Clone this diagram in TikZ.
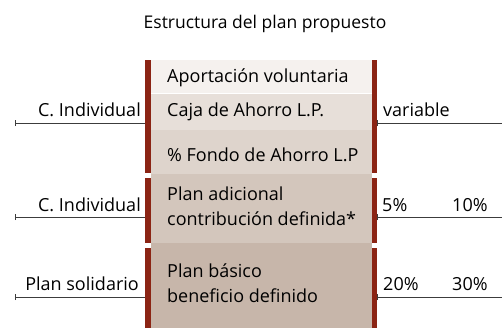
\documentclass[tikz,border=0pt]{standalone}
\usepackage{fontspec}
\setmainfont{Open Sans}
\usetikzlibrary{arrows.meta, calc, positioning}
\definecolor{barred}{RGB}{139,36,20}
\definecolor{shadeA}{RGB}{245,241,238}
\definecolor{shadeB}{RGB}{231,223,217}
\definecolor{shadeC}{RGB}{222,212,204}
\definecolor{shadeD}{RGB}{211,198,188}
\definecolor{shadeE}{RGB}{199,182,170}
\definecolor{linegray}{RGB}{60,60,60}

\begin{document}
\begin{tikzpicture}[% styles used in image code
           x = 1pt, y = -1pt,
           > = {Bar[width=4pt, line width=0.8pt]}, % defined in "arrows.meta"
row/.style = {fill=#1, minimum width=221pt, inner sep=0pt,
              outer sep=0pt, anchor=north west},
txt/.style = {inner sep=0pt, align=left, font=\fontsize{18}{25}\selectfont},
bar/.style = {fill=barred, minimum width=6pt, inner sep=0pt, outer sep=0pt,
              anchor=north west},
tag/.style = {anchor=base west, inner sep=0pt, font=\fontsize{18}{20}\selectfont},
lbl/.style = {anchor=base east, inner sep=0pt, font=\fontsize{18}{20}\selectfont},
lne/.style = {draw=linegray, line width=0.8pt}
                        ]
	\useasboundingbox (0,0) rectangle (502,328);

	% title
	\node[inner sep=0pt, anchor=base, font=\fontsize{17.5}{20}\selectfont] (title)
	     at (265,29) {Estructura del plan propuesto};

	% rows of the plan
	\node[row=shadeA, minimum height=34pt] (aport) at (151,60) {};
	\node[row=shadeB, minimum height=36pt] (caja)  at (151,94) {};
	\node[row=shadeC, minimum height=44pt] (fondo) at (151,130) {};
	\node[row=shadeD, minimum height=69pt] (adic)  at (151,174) {};
	\node[row=shadeE, minimum height=85pt] (basic) at (151,243) {};
	\draw[white, line width=1pt] (aport.south west) -- (aport.south east);

	\node[txt, right=16pt of aport.west, yshift=-1pt] (aportT) {Aportación voluntaria};
	\node[txt, right=16pt of caja.west]                (cajaT)  {Caja de Ahorro L.P.};
	\node[txt, right=16pt of fondo.west, yshift=-3pt] (fondoT) {\% Fondo de Ahorro L.P};
	\node[txt, right=16pt of adic.west, yshift=2pt]   (adicT)  {Plan adicional\\contribución definida*};
	\node[txt, right=16pt of basic.west, yshift=2pt]  (basicT) {Plan básico\\beneficio definido};

	% red side bars
	\node[bar, minimum height=113pt] (barL1) at (145,60) {};
	\node[bar, minimum height=65pt]  (barL2) at (145,178) {};
	\node[bar, minimum height=80pt]  (barL3) at (145,248) {};
	\node[bar, minimum height=113pt, minimum width=5pt] (barR1) at (372,60) {};
	\node[bar, minimum height=65pt,  minimum width=5pt] (barR2) at (372,178) {};
	\node[bar, minimum height=80pt,  minimum width=5pt] (barR3) at (372,248) {};

	% free ends of the lines
	\coordinate (endL1) at (15,123);
	\coordinate (endL2) at (15,217);
	\coordinate (endL3) at (15,297);
	\coordinate (endR1) at (502,123);
	\coordinate (endR2) at (502,217);
	\coordinate (endR3) at (502,297);

	\draw[lne, |-] (endL1) -- (endL1 -| barL1.west);
	\draw[lne, |-] (endL2) -- (endL2 -| barL2.west);
	\draw[lne, |-] (endL3) -- (endL3 -| barL3.west);
	\draw[lne, |-] (endR1 -| barR1.east) -- (endR1);
	\draw[lne, |-] (endR2 -| barR2.east) -- (endR2);
	\draw[lne, |-] (endR3 -| barR3.east) -- (endR3);

	% labels left
	\node[lbl] (indA) at (141,117) {C. Individual};
	\node[lbl] (indB) at (141,212) {C. Individual};
	\node[lbl] (solid) at (139,290) {Plan solidario};

	% labels right
	\node[tag] (var)    at (383,117) {variable};
	\node[tag] (pctA)   at (382,212) {5\%};
	\node[tag] (pctB)   at (452,212) {10\%};
	\node[tag] (pctC)   at (383,290) {20\%};
	\node[tag] (pctD)   at (452,290) {30\%};
\end{tikzpicture}
\end{document}
